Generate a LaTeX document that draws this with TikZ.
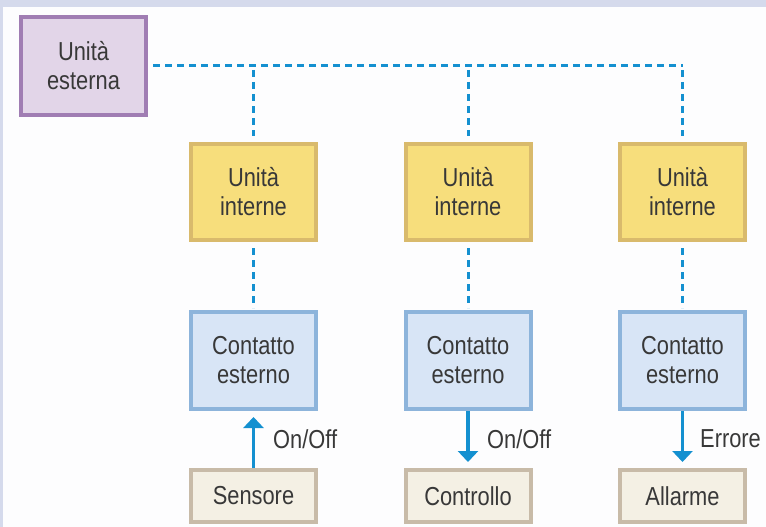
\documentclass[tikz,border=0pt]{standalone}
\usepackage{fontspec}
\setmainfont{Liberation Sans}[FakeStretch=0.84]
\usetikzlibrary{arrows.meta}

\definecolor{pagebg}{HTML}{FDFDFE}
\definecolor{band}{HTML}{D5DAEC}
\definecolor{txt}{HTML}{383838}
\definecolor{extfill}{HTML}{E2D5E8}
\definecolor{extline}{HTML}{A07DB3}
\definecolor{intfill}{HTML}{F7DE7C}
\definecolor{intline}{HTML}{D9BA6C}
\definecolor{confill}{HTML}{D8E5F6}
\definecolor{conline}{HTML}{8DB4DB}
\definecolor{devfill}{HTML}{F4F0E4}
\definecolor{devline}{HTML}{C8BBA8}
\definecolor{wire}{HTML}{1490D0}

\tikzset{
  box/.style={draw, line width=4pt, minimum width=125pt, inner sep=0pt,
    align=center, text=txt, font=\fontsize{26}{29}\selectfont},
  extbox/.style={box, fill=extfill, draw=extline, minimum height=98pt},
  intbox/.style={box, fill=intfill, draw=intline, minimum height=96pt},
  conbox/.style={box, fill=confill, draw=conline, minimum height=97pt},
  devbox/.style={box, fill=devfill, draw=devline, minimum height=52pt},
  link/.style={draw=wire, line width=3pt, dash pattern=on 7pt off 5pt},
  flow/.style={draw=wire, line width=3.5pt,
    -{Triangle[width=20pt,length=11pt]}, shorten >=6pt},
  lbl/.style={anchor=west, inner sep=0pt, text=txt, font=\fontsize{26}{29}\selectfont}
}

\begin{document}
\begin{tikzpicture}[x=1pt,y=-1pt]
  % page background and frame bands
  \fill[pagebg] (0,0) rectangle (766,527);
  \fill[band] (0,0) rectangle (766,7);
  \fill[band] (0,0) rectangle (3,527);
  \useasboundingbox (0,0) rectangle (766,527);

  % outdoor unit
  \node[extbox] (ext) at (83.5,66) {Unità\\esterna};

  % indoor units
  \node[intbox] (int1) at (253.5,192) {Unità\\interne};
  \node[intbox] (int2) at (468,192) {Unità\\interne};
  \node[intbox] (int3) at (682.5,192) {Unità\\interne};

  % external contacts
  \node[conbox] (con1) at (253.5,360.5) {Contatto\\esterno};
  \node[conbox] (con2) at (468,360.5) {Contatto\\esterno};
  \node[conbox] (con3) at (682.5,360.5) {Contatto\\esterno};

  % field devices
  \node[devbox] (dev1) at (253.5,496) {Sensore};
  \node[devbox] (dev2) at (468,496) {Controllo};
  \node[devbox] (dev3) at (682.5,496) {Allarme};

  % communication bus
  \coordinate (busend) at (682.5,66);
  \draw[link, shorten <=5pt] (ext.east) -- (busend);
  \draw[link, shorten <=4pt, shorten >=6pt] (int1.north |- ext.east) -- (int1.north);
  \draw[link, shorten <=4pt, shorten >=6pt] (int2.north |- ext.east) -- (int2.north);
  \draw[link, shorten <=4pt, shorten >=6pt] (busend) -- (int3.north);
  \draw[link, shorten <=6pt, shorten >=2pt] (int1.south) -- (con1.north);
  \draw[link, shorten <=6pt, shorten >=2pt] (int2.south) -- (con2.north);
  \draw[link, shorten <=6pt, shorten >=2pt] (int3.south) -- (con3.north);

  % signals
  \draw[flow] (dev1.north) -- (con1.south);
  \draw[flow] (con2.south) -- (dev2.north);
  \draw[flow] (con3.south) -- (dev3.north);

  \node[lbl] (l1) at (273,439) {On/Off};
  \node[lbl] (l2) at (487,439) {On/Off};
  \node[lbl] (l3) at (700,439) {Errore};
\end{tikzpicture}
\end{document}
